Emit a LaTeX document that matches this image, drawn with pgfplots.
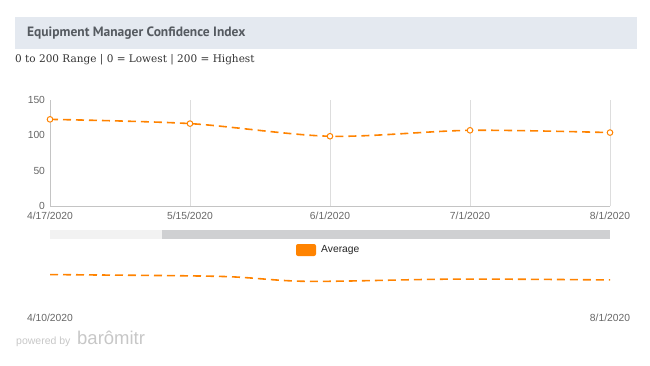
\documentclass[border=0pt]{standalone}
\usepackage{pgfplots}
\pgfplotsset{compat=1.18}
\usepackage{fontspec}
\setmainfont{Liberation Sans}
\newfontfamily\seriffont{DejaVu Serif}
\newfontfamily\titlefont{PT Sans}
\definecolor{orng}{HTML}{FF8300}
\definecolor{barbg}{HTML}{E4E9F0}
\definecolor{titletxt}{HTML}{555A60}
\definecolor{ticktxt}{HTML}{666666}
\definecolor{gridc}{HTML}{DDDDDD}
\definecolor{axisc}{HTML}{C4C4C4}
\definecolor{scrollc}{HTML}{CFD0D2}
\begin{document}
\begin{tikzpicture}
\useasboundingbox (0pt,0pt) rectangle (650pt,365pt);
% title bar
\fill[barbg] (15pt,316pt) rectangle (637pt,348pt);
\node[anchor=west,text=titletxt,inner sep=0pt] at (27pt,332pt) {\titlefont\bfseries\fontsize{13.5}{15}\selectfont Equipment Manager Confidence Index};
\node[anchor=west,text=black!80,inner sep=0pt] at (15pt,305pt) {\seriffont\fontsize{10.5}{12}\selectfont 0 to 200 Range | 0 = Lowest | 200 = Highest};
% main axis
\begin{axis}[
  at={(50pt,159pt)}, anchor=south west,
  scale only axis, width=560pt, height=106pt,
  xmin=0, xmax=4, ymin=0, ymax=150,
  xtick={0,1,2,3,4},
  xticklabels={4/17/2020,5/15/2020,6/1/2020,7/1/2020,8/1/2020},
  ytick={0,50,100,150},
  axis x line*=bottom, axis y line*=left,
  axis line style={axisc,-},
  xmajorgrids, major grid style={gridc, line width=0.8pt},
  major tick length=0pt,
  tick label style={text=ticktxt, font=\fontsize{10.3}{12}\selectfont},
  /pgf/number format/assume math mode=true,
  xticklabel style={yshift=-3pt},
  yticklabel style={xshift=-1.5pt},
  clip=false,
]
\addplot[orng, line width=1.6pt, dash pattern=on 8pt off 5pt, smooth, tension=0.5,
  mark=*, mark size=2.8pt, mark options={solid, fill=white, draw=orng, line width=1pt}]
  coordinates {(0,122.6) (1,116.6) (2,98.7) (3,107.1) (4,103.9)};
\end{axis}
% scrollbar
\fill[black!5] (50pt,126pt) rectangle (162pt,135pt);
\fill[scrollc] (162pt,126pt) rectangle (610pt,135pt);
% legend
\fill[orng, rounded corners=2pt] (296pt,109pt) rectangle (316pt,121pt);
\node[anchor=west,inner sep=0pt,text=black!85] at (321pt,115pt) {\fontsize{10.3}{12}\selectfont Average};
% navigator
\begin{axis}[
  at={(50pt,65pt)}, anchor=south west,
  scale only axis, width=560pt, height=38pt,
  xmin=0, xmax=113, ymin=30, ymax=170,
  hide axis, clip=false,
]
\addplot[orng, line width=1.6pt, dash pattern=on 8pt off 5pt, smooth, tension=0.5]
  coordinates {(0,123.5) (7,122.6) (35,116.6) (52,98.7) (82,107.1) (113,103.9)};
\end{axis}
\node[text=ticktxt,inner sep=0pt] at (50pt,47pt) {\fontsize{10.3}{12}\selectfont 4/10/2020};
\node[text=ticktxt,inner sep=0pt] at (610pt,47pt) {\fontsize{10.3}{12}\selectfont 8/1/2020};
% powered by
\node[anchor=base west,inner sep=0pt,text=black!22] at (16pt,21pt) {\fontsize{10.5}{12}\selectfont powered by};
\node[anchor=base west,inner sep=0pt,text=black!22] at (77pt,21pt) {\fontsize{18.5}{20}\selectfont barômitr};
\end{tikzpicture}
\end{document}
